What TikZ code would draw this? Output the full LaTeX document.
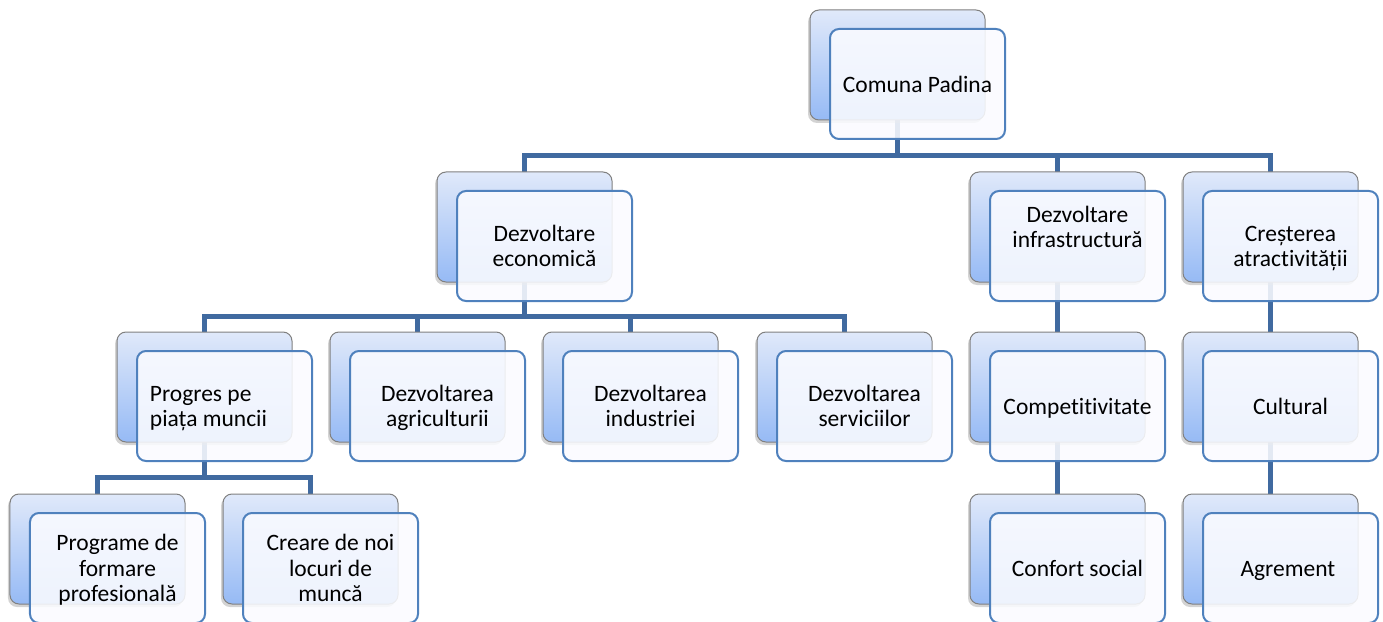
\documentclass[tikz,border=0pt]{standalone}
\usepackage{fontspec}
\setmainfont{Carlito}[RawFeature=-liga]
\usepackage{tikz}
\usetikzlibrary{calc,shadows}

\definecolor{linec}{RGB}{64,106,160}
\definecolor{frontc}{RGB}{79,129,189}
\definecolor{backtop}{RGB}{224,233,250}
\definecolor{backbot}{RGB}{150,186,245}
\definecolor{backline}{RGB}{128,128,128}

\pgfdeclarelayer{bg}
\pgfsetlayers{bg,main}

\tikzset{
  backbox/.style={rectangle, rounded corners=9bp, minimum width=175bp, minimum height=110bp,
    inner sep=0pt, outer sep=0pt, draw=backline, line width=1bp, top color=backtop, bottom color=backbot,
    drop shadow={shadow xshift=-2bp, shadow yshift=-3bp, opacity=.35}},
  frontbox/.style={rectangle, rounded corners=9bp, minimum width=175bp, minimum height=110bp,
    inner sep=0pt, outer sep=0pt, draw=frontc, line width=2bp, fill={rgb,255:red,250;green,251;blue,255}, fill opacity=.88},
  boxtext/.style={inner sep=0pt, yshift=-3bp, text=black, font=\fontsize{23.5bp}{25.5bp}\selectfont},
  conn/.style={draw=linec, line width=4.5bp, line join=miter}
}

\begin{document}
\begin{tikzpicture}[x=1bp, y=-1bp]
\useasboundingbox (0,0) rectangle (1383,622);
% boxes: name / back box top-left / text shift / alignment / text
\foreach \nm/\bx/\by/\dx/\dy/\al/\txt in {
  root/810/10/0/0/center/{Comuna Padina},
  eco/437/172/0/0/center/{Dezvoltare\\economică},
  inf/970/172/0/-19/center/{Dezvoltare\\infrastructură},
  atr/1183/172/0/0/center/{Creșterea\\atractivității},
  pro/117/332/-16/0/left/{Progres pe\\piața muncii},
  agr/330/332/0/0/center/{Dezvoltarea\\agriculturii},
  ind/543/332/0/0/center/{Dezvoltarea\\industriei},
  ser/757/332/0/0/center/{Dezvoltarea\\serviciilor},
  com/970/332/0/0/center/{Competitivitate},
  cul/1183/332/0/0/center/{Cultural},
  prg/10/494/0/0/center/{Programe de\\formare\\profesională},
  loc/223/494/0/0/center/{Creare de noi\\locuri de\\muncă},
  con/970/494/0/0/center/{Confort social},
  agm/1183/494/0/0/center/{Agrement}
}{
  \node[backbox] (\nm-b) at (\bx+87.5,\by+55) {};
  \node[frontbox] (\nm) at (\bx+107.5,\by+74) {};
  \node[boxtext, align=\al] (\nm-t) at ([shift={(\dx,\dy)}]\nm.center) {\strut\txt\strut};
}
% connectors, behind the boxes
\begin{pgfonlayer}{bg}
\foreach \p/\c in {root/eco, root/inf, root/atr, eco/pro, eco/agr, eco/ind, eco/ser,
  inf/com, com/con, atr/cul, cul/agm, pro/prg, pro/loc} {
  \coordinate (\c-m) at ($(\p.south)!.5!(\c-b.north)$);
  \draw[conn] (\p-b.center) |- (\c-b.north |- \c-m) -- (\c-b.north);
}
\end{pgfonlayer}
\end{tikzpicture}
\end{document}
